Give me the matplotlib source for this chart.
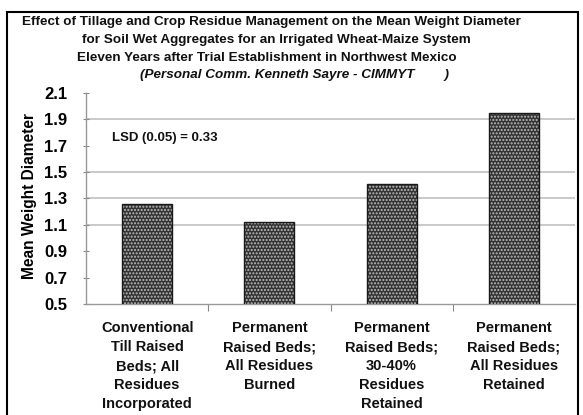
import matplotlib.pyplot as plt
from matplotlib.patches import Rectangle

plt.rcParams['font.family'] = ['Liberation Sans', 'DejaVu Sans']
plt.rcParams['font.weight'] = 'bold'

# treatments and mean weight diameter values
categories = ["Conventional\nTill Raised\nBeds; All\nResidues\nIncorporated",
              "Permanent\nRaised Beds;\nAll Residues\nBurned",
              "Permanent\nRaised Beds;\n30-40%\nResidues\nRetained",
              "Permanent\nRaised Beds;\nAll Residues\nRetained"]
mwd = [1.26, 1.12, 1.41, 1.95]
yticks = [0.5, 0.7, 0.9, 1.1, 1.3, 1.5, 1.7, 1.9, 2.1]
grid_levels = [1.1, 1.3, 1.5, 1.9]

title_lines = ["Effect of Tillage and Crop Residue Management on the Mean Weight Diameter",
               "for Soil Wet Aggregates for an Irrigated Wheat-Maize System",
               "Eleven Years after Trial Establishment in Northwest Mexico",
               "(Personal Comm. Kenneth Sayre - CIMMYT        )"]

fig = plt.figure(figsize=(5.83, 4.15), dpi=100)
ax = fig.add_axes([86/583, 1 - 304/415, (575 - 86)/583, (304 - 93)/415])

x = range(len(mwd))
# dark fill with light dotted texture, then black outline
ax.bar(x, mwd, width=0.41, bottom=0, color='#333333', edgecolor='#bdbdbd',
       hatch='.....', linewidth=0, zorder=3)
ax.bar(x, mwd, width=0.41, fill=False, edgecolor='#1a1a1a', linewidth=1.0, zorder=4)

for g in grid_levels:
    ax.axhline(g, color='#c0c0c0', linewidth=1.2, zorder=1)

ax.set_ylim(0.5, 2.1)
ax.set_xlim(-0.5, 3.5)
ax.set_yticks(yticks)
ax.set_yticklabels([f"{v:.1f}" for v in yticks], fontsize=12, fontweight='bold')
ax.tick_params(axis='y', direction='inout', length=5, color='#888888', pad=11)
ax.set_xticks([0.5, 1.5, 2.5])
ax.set_xticklabels([])
ax.tick_params(axis='x', direction='out', length=5, color='#888888')
for i, lab in enumerate(categories):
    ax.text(i, 0.37, lab, ha='center', va='top', fontsize=10.5, fontweight='bold',
            linespacing=1.46, color='#111111')

for s in ['top', 'right']:
    ax.spines[s].set_visible(False)
for s in ['left', 'bottom']:
    ax.spines[s].set_color('#999999')
    ax.spines[s].set_linewidth(1.0)

ax.set_ylabel("Mean Weight Diameter", fontsize=11.2, fontweight='bold')
ax.yaxis.set_label_coords(-0.10, 0.51)

ax.text(-0.287, 1.76, "LSD (0.05) = 0.33", fontsize=9.5, fontweight='bold',
        ha='left', va='center', color='#111111')

ty = [22, 40, 58, 75]
tx = [22, 82, 77, 140]
for i, line in enumerate(title_lines):
    fig.text(tx[i]/583, 1 - ty[i]/415, line, ha='left', va='center', fontsize=9.7,
             fontweight='bold', fontstyle='italic' if i == 3 else 'normal', color='#111111')

fig.patches.append(Rectangle((7/583, -0.05), (578 - 7)/583, 1.05 - 12/415,
                             transform=fig.transFigure, fill=False,
                             edgecolor='black', linewidth=1.5))

fig.savefig('out.png', dpi=100)
